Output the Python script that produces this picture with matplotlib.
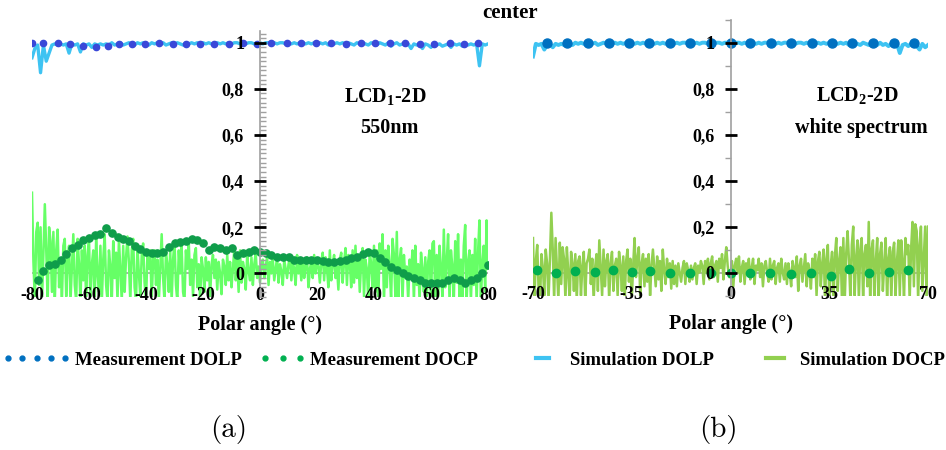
import numpy as np
import matplotlib
matplotlib.use("Agg")
import matplotlib.pyplot as plt
from matplotlib.ticker import FixedLocator, FuncFormatter
from matplotlib.legend_handler import HandlerLine2D

plt.rcParams['font.family'] = 'Liberation Serif'
plt.rcParams['font.weight'] = 'bold'
plt.rcParams['axes.unicode_minus'] = False
plt.rcParams['mathtext.fontset'] = 'custom'
plt.rcParams['mathtext.rm'] = 'Liberation Serif:bold'
plt.rcParams['mathtext.bf'] = 'Liberation Serif:bold'

# ---------------- datos panel (a): LCD1-2D, 550 nm ----------------
ang_docp_sim_a = np.arange(-80, 80.1, 0.5)
docp_sim_a = [
    0.35, 0.05, -0.12, 0.18, 0.22, -0.05, 0.20, -0.12, 0.08, 0.30, 0.10, -0.12, 0.20, 0.14, -0.08, 0.18, -0.12, 0.10, 0.19, -0.06,
    0.05, -0.12, 0.12, 0.15, -0.10, 0.06, 0.12, -0.12, 0.02, 0.17, -0.05, -0.12, 0.15, 0.04, -0.12, 0.10, -0.03, 0.12, -0.12, 0.08,
    0.15, -0.12, 0.04, 0.10, -0.12, 0.15, 0.00, -0.08, 0.12, -0.12, 0.06, 0.17, -0.05, -0.12, 0.10, 0.03, -0.12, 0.14, -0.02, 0.09,
    -0.12, 0.15, 0.02, -0.12, 0.12, -0.08, 0.07, 0.16, 0.05, -0.12, 0.10, 0.15, -0.06, -0.12, 0.12, 0.00, -0.10, 0.08, 0.13, -0.04,
    -0.12, 0.08, 0.02, 0.10, -0.12, 0.06, 0.10, -0.05, 0.06, -0.12, 0.03, 0.17, -0.02, -0.12, 0.09, 0.04, -0.08, 0.10, -0.12, 0.06,
    0.14, -0.05, -0.12, 0.10, 0.00, 0.12, -0.08, -0.12, 0.10, 0.02, 0.14, -0.05, 0.06, -0.10, 0.08, 0.11, -0.06, 0.04, -0.12, 0.07,
    0.02, -0.08, 0.07, -0.03, 0.05, -0.10, 0.04, 0.08, -0.02, 0.06, -0.07, 0.05, 0.00, -0.09, 0.06, 0.03, -0.05, 0.08, -0.03, 0.05,
    -0.06, 0.02, 0.11, -0.03, 0.06, -0.08, 0.10, -0.04, 0.05, 0.02, -0.07, 0.08, 0.01, -0.03, 0.07, -0.05, 0.04, 0.09, -0.02, 0.03,
    -0.04, 0.04, 0.06, -0.02, 0.03, 0.07, -0.05, 0.05, 0.00, 0.06, -0.03, 0.02, 0.07, -0.04, 0.04, 0.01, -0.05, 0.06, 0.02, -0.02,
    0.04, 0.07, -0.03, 0.05, 0.02, -0.05, 0.08, 0.00, 0.04, -0.03, 0.06, -0.02, 0.03, 0.07, -0.06, 0.02, 0.05, -0.02, 0.08, 0.00,
    0.06, 0.03, -0.04, 0.05, 0.09, -0.03, 0.07, 0.02, -0.06, 0.10, -0.03, 0.04, 0.08, -0.02, 0.03, -0.07, 0.06, 0.09, -0.04, 0.05,
    0.11, -0.05, 0.08, 0.05, -0.06, 0.10, -0.04, 0.12, -0.02, 0.08, -0.08, 0.05, 0.11, -0.10, 0.06, 0.02, -0.12, 0.10, 0.04, -0.06,
    0.12, -0.08, 0.10, -0.12, 0.13, 0.02, 0.17, -0.12, 0.10, -0.06, 0.12, 0.04, -0.12, 0.15, 0.08, -0.10, 0.18, -0.12, 0.06, 0.11,
    -0.12, 0.08, -0.02, 0.03, -0.12, 0.06, 0.00, 0.10, -0.12, 0.12, -0.05, 0.04, -0.12, 0.09, 0.02, -0.08, 0.07, -0.12, 0.05, 0.10,
    -0.12, 0.13, 0.14, -0.12, 0.08, -0.12, 0.12, 0.02, -0.10, 0.19, -0.06, 0.05, 0.17, -0.12, 0.10, 0.03, -0.12, 0.14, -0.04, 0.17,
    -0.12, 0.06, -0.12, 0.12, 0.21, -0.12, 0.05, 0.10, -0.12, 0.08, -0.05, 0.15, -0.12, 0.09, 0.23, -0.12, 0.04, 0.12, -0.08, 0.23,
    0.02,
]

ang_dolp_sim_a = np.arange(-80, 81, 1)
dolp_sim_a = [
    0.935, 0.975, 0.99, 0.87, 0.99, 0.92, 0.955, 0.99, 0.995, 0.99,
    0.995, 0.99, 0.995, 0.955, 0.995, 0.99, 0.995, 0.96, 0.995, 0.99,
    0.995, 0.98, 0.995, 0.99, 0.995, 0.99, 0.995, 0.99, 1.0, 0.99,
    0.995, 1.0, 0.99, 0.995, 1.0, 0.995, 0.99, 1.0, 0.995, 1.0,
    0.995, 0.99, 1.0, 0.995, 1.0, 0.995, 1.0, 0.99, 0.995, 1.0,
    0.995, 1.0, 0.995, 0.99, 1.0, 0.995, 1.0, 0.995, 1.0, 0.995,
    1.0, 0.995, 1.0, 0.995, 0.99, 1.0, 0.995, 1.0, 0.995, 1.0,
    0.995, 1.0, 1.0, 0.995, 1.0, 0.995, 1.0, 1.0, 0.995, 1.0,
    1.0, 0.995, 1.0, 1.0, 0.995, 1.0, 0.995, 1.0, 1.0, 0.995,
    1.0, 0.995, 1.0, 0.995, 1.0, 1.0, 0.995, 1.0, 0.995, 1.0,
    0.995, 1.0, 0.995, 1.0, 0.99, 1.0, 0.995, 1.0, 0.995, 1.0,
    0.995, 1.0, 0.995, 0.99, 1.0, 0.995, 1.0, 0.995, 0.99, 1.0,
    0.995, 0.99, 1.0, 0.995, 0.99, 1.0, 0.985, 0.995, 1.0, 0.99,
    0.995, 0.99, 0.995, 0.975, 0.995, 0.99, 0.995, 0.975, 0.995, 0.99,
    0.98, 0.995, 0.99, 0.995, 0.985, 0.99, 0.995, 0.98, 0.995, 0.99,
    0.995, 0.985, 0.995, 0.99, 0.995, 0.99, 0.995, 0.90, 0.995, 0.99, 0.995,
]

ang_dolp_med_a = [-80, -76, -71, -66.5, -62, -57.5, -53.5, -49.5, -45, -40.5, -35.5,
                  -30.5, -26, -21, -16, -11, -6, -1, 4, 9.5, 14.5, 19.5, 25, 30,
                  35.5, 40.5, 45.5, 51, 56, 61, 66.5, 71.5, 76.5]
dolp_med_a = [1.0, 1.0, 1.0, 0.995, 0.985, 0.98, 0.985, 0.995, 0.995, 0.995, 1.0,
              0.995, 0.995, 0.995, 0.995, 0.995, 1.0, 0.995, 1.0, 1.0, 1.0, 1.0,
              1.0, 0.995, 1.0, 1.0, 1.0, 1.0, 0.995, 0.995, 1.0, 0.995, 1.0]

ang_docp_med_a = np.arange(-78, 81, 2)
docp_med_a = [
    -0.03, 0.01, 0.035, 0.04, 0.058, 0.085, 0.11, 0.125, 0.145, 0.155,
    0.167, 0.17, 0.196, 0.175, 0.16, 0.15, 0.14, 0.12, 0.105, 0.095,
    0.087, 0.09, 0.095, 0.116, 0.13, 0.137, 0.14, 0.148, 0.145, 0.13,
    0.10, 0.116, 0.11, 0.10, 0.109, 0.08, 0.09, 0.094, 0.10, 0.095,
    0.087, 0.08, 0.072, 0.07, 0.072, 0.06, 0.058, 0.058, 0.06, 0.058,
    0.052, 0.05, 0.051, 0.055, 0.058, 0.065, 0.072, 0.085, 0.094, 0.087,
    0.065, 0.05, 0.03, 0.015, 0.0, -0.01, -0.02, -0.03, -0.04, -0.043,
    -0.04, -0.043, -0.03, -0.02, -0.03, -0.043, -0.03, -0.02, 0.0, 0.036,
]

# ---------------- datos panel (b): LCD2-2D, espectro blanco ----------------
ang_docp_sim_b = np.arange(-70, 70.1, 0.5)
docp_sim_b = [
    0.15, -0.12, 0.05, 0.12, -0.08, -0.12, 0.08, 0.02, -0.10, 0.10, 0.04, -0.12, 0.06, 0.26, 0.10, -0.12, 0.15, 0.02, -0.12, 0.13,
    -0.05, 0.11, 0.06, -0.12, 0.11, 0.00, -0.12, 0.09, 0.04, -0.08, 0.08, -0.12, 0.05, 0.07, -0.10, 0.03, 0.09, -0.12, 0.04, 0.06,
    0.10, -0.05, 0.06, -0.12, 0.02, 0.08, -0.08, 0.14, 0.02, -0.10, 0.10, -0.06, 0.05, 0.08, -0.12, 0.04, 0.09, -0.08, 0.03, 0.06,
    -0.10, 0.09, 0.03, -0.08, 0.07, -0.12, 0.05, 0.10, -0.04, 0.06, -0.12, 0.03, 0.15, -0.02, 0.06, 0.11, -0.10, 0.04, 0.08, -0.06,
    0.06, -0.04, 0.08, -0.10, 0.03, 0.10, 0.02, -0.06, 0.07, -0.03, 0.05, -0.08, 0.10, 0.01, -0.05, 0.06, -0.02, 0.04, -0.07, 0.05,
    -0.05, 0.03, -0.06, 0.04, 0.00, -0.04, 0.02, 0.05, -0.05, 0.04, 0.01, -0.04, 0.03, -0.03, 0.02, 0.04, -0.05, 0.03, 0.00, 0.05,
    0.03, -0.05, 0.05, 0.00, 0.06, -0.03, 0.04, 0.07, -0.02, 0.03, 0.05, -0.04, 0.06, 0.02, 0.08, -0.03, 0.05, 0.11, 0.03, -0.02,
    -0.02, 0.05, -0.06, 0.03, 0.06, 0.00, 0.07, -0.04, 0.02, 0.05, -0.05, 0.04, 0.00, 0.06, -0.03, 0.02, 0.06, -0.05, 0.03, 0.01,
    0.06, -0.02, 0.04, -0.06, 0.03, 0.05, 0.00, -0.04, 0.06, -0.03, 0.03, 0.05, -0.05, 0.02, 0.04, -0.04, 0.06, 0.00, -0.03, 0.04,
    -0.05, 0.04, 0.00, -0.06, 0.05, 0.02, -0.02, 0.07, -0.08, 0.03, 0.06, -0.04, 0.02, 0.08, -0.06, 0.04, 0.01, -0.07, 0.06, -0.02,
    0.08, -0.10, 0.05, 0.09, -0.06, 0.04, 0.10, -0.12, 0.06, 0.12, -0.10, 0.03, 0.09, -0.12, 0.07, 0.15, -0.08, 0.05, 0.11, -0.12,
    0.15, -0.12, 0.08, 0.18, 0.05, -0.12, 0.12, 0.20, -0.10, 0.06, 0.14, -0.12, 0.10, 0.15, -0.12, 0.08, 0.12, -0.06, 0.22, -0.12,
    0.10, 0.14, -0.12, 0.05, 0.15, -0.12, 0.08, 0.13, -0.08, 0.04, 0.15, -0.12, 0.06, 0.11, -0.12, 0.09, 0.13, -0.10, 0.05, 0.14,
    -0.10, 0.14, 0.05, -0.12, 0.15, 0.08, 0.12, -0.12, 0.10, 0.22, -0.06, 0.21, 0.18, -0.12, 0.12, 0.20, -0.08, 0.06, 0.20, -0.12,
    0.20,
]

ang_dolp_sim_b = np.arange(-70, 71, 1)
dolp_sim_b = [
    0.94, 0.995, 0.99, 0.995, 0.97, 0.99, 0.995, 0.98, 0.995, 0.99,
    0.995, 0.99, 1.0, 0.995, 0.99, 1.0, 0.995, 1.0, 0.995, 0.99,
    1.0, 0.995, 1.0, 0.99, 0.995, 1.0, 0.995, 1.0, 0.995, 1.0,
    0.995, 1.0, 0.995, 1.0, 0.99, 1.0, 0.995, 1.0, 0.995, 1.0,
    0.995, 1.0, 1.0, 0.995, 1.0, 0.995, 1.0, 0.995, 1.0, 1.0,
    0.995, 1.0, 0.995, 1.0, 1.0, 0.995, 1.0, 0.995, 1.0, 0.995,
    1.0, 1.0, 0.995, 1.0, 0.995, 1.0, 1.0, 0.995, 1.0, 1.0,
    1.0, 0.995, 1.0, 1.0, 0.995, 1.0, 0.995, 1.0, 1.0, 0.995,
    1.0, 0.995, 1.0, 1.0, 0.995, 1.0, 0.995, 1.0, 0.995, 1.0,
    1.0, 0.995, 1.0, 0.995, 1.0, 1.0, 0.995, 1.0, 0.995, 1.0,
    0.995, 1.0, 0.995, 1.0, 0.995, 1.0, 0.99, 1.0, 0.995, 1.0,
    0.995, 1.0, 0.99, 0.995, 1.0, 0.995, 0.99, 1.0, 0.995, 0.99,
    1.0, 0.995, 0.99, 1.0, 0.99, 0.995, 0.985, 0.995, 0.99, 0.995,
    0.955, 0.99, 0.995, 0.985, 0.995, 0.99, 0.985, 0.97, 0.995, 0.98, 0.99,
]

ang_dolp_med_b = [-65, -58, -50.5, -43, -36, -29, -21.5, -14.5, -7, 0,
                  7, 14.5, 21.5, 29, 36, 43, 50.5, 58, 65]
dolp_med_b = [1.0, 1.0, 1.0, 1.0, 1.0, 1.0, 1.0, 1.0, 1.0, 1.0,
              1.0, 1.0, 1.0, 1.0, 1.0, 1.0, 1.0, 1.0, 1.0]

ang_docp_med_b = [-68.5, -62, -55, -48, -41.5, -35, -28.5, -21.5, -14.5, -7, 0,
                  7, 14, 21.5, 28.5, 35.5, 42, 49, 56, 63]
docp_med_b = [0.012, 0.0, 0.007, 0.003, 0.012, 0.003, 0.007, 0.0, 0.0, 0.0, -0.004,
              -0.004, -0.004, -0.006, -0.004, -0.017, 0.015, 0.0, 0.004, 0.012]

# colores
c_dolp_sim = '#3ec3f2'
c_docp_sim_a = '#66ff66'
c_docp_sim_b = '#92d050'
c_dolp_med_a = '#3a48d8'
c_docp_med_a = '#0f9d4a'
c_dolp_med_b = '#0070c0'
c_docp_med_b = '#00b050'

W, H = 946, 450
fig = plt.figure(figsize=(W / 100, H / 100), dpi=100)


def ejes(x0, x1, ytop, ybot):
    # caja en pixeles -> fraccion de figura
    return fig.add_axes([x0 / W, 1 - ybot / H, (x1 - x0) / W, (ybot - ytop) / H])


coma = FuncFormatter(lambda v, p: ('%g' % round(v, 2)).replace('.', ','))


def estilo(ax, xlim, ylim, xticks, minor_step, minor_dir):
    ax.set_xlim(*xlim)
    ax.set_ylim(*ylim)
    ax.set_axisbelow(False)   # etiquetas de ejes encima de las curvas
    for s in ['top', 'right', 'bottom']:
        ax.spines[s].set_visible(False)
    ax.spines['left'].set_position(('data', 0))
    ax.spines['left'].set_color('#a0a0a0')
    ax.spines['left'].set_linewidth(1.2)
    ax.axhline(0, color='#a0a0a0', lw=1.2, zorder=1)
    ax.yaxis.set_major_locator(FixedLocator([0, 0.2, 0.4, 0.6, 0.8, 1.0]))
    ax.yaxis.set_major_formatter(coma)
    ax.yaxis.set_minor_locator(FixedLocator(np.arange(-0.1, ylim[1] + 0.001, minor_step)))
    ax.tick_params(axis='y', which='major', direction='inout', length=9, width=2,
                   color='black', labelsize=13, pad=7)
    ax.tick_params(axis='y', which='minor', direction=minor_dir, length=4, width=1,
                   color='#a0a0a0')
    ax.set_xticks(xticks)
    ax.tick_params(axis='x', length=0, labelsize=13, pad=-7)
    for t in ax.get_xticklabels() + ax.get_yticklabels():
        t.set_fontweight('bold')
    ax.set_xlabel('Polar angle (°)', fontsize=14.5, fontweight='bold')
    ax.xaxis.set_label_coords(0.5, -0.068)
    ax.patch.set_alpha(0)


# ---------------- panel (a) ----------------
ax1 = ejes(32, 488, 31.2, 296.5)
estilo(ax1, (-80, 80), (-0.1, 1.05), [-80, -60, -40, -20, 0, 20, 40, 60, 80], 0.02, 'in')
ax1.plot(ang_docp_sim_a, docp_sim_a, color=c_docp_sim_a, lw=1.8, zorder=2.0)
ax1.plot(ang_docp_med_a, docp_med_a, 'o', color=c_docp_med_a, ms=5.2, zorder=2.1)
ax1.plot(ang_dolp_sim_a, dolp_sim_a, color=c_dolp_sim, lw=2.4, zorder=2.2)
ax1.plot(ang_dolp_med_a, dolp_med_a, 'o', color=c_dolp_med_a, ms=4.5, zorder=2.3)
ax1.text(44, 0.765, 'LCD$_{1}$-2D', fontsize=14.5, fontweight='bold', ha='center', va='center')
ax1.text(45.5, 0.63, '550nm', fontsize=14.5, fontweight='bold', ha='center', va='center')

# ---------------- panel (b) ----------------
ax2 = ejes(533, 928, 19.7, 295.5)
estilo(ax2, (-70, 70), (-0.1, 1.1), [-70, -35, 0, 35, 70], 0.1, 'out')
ax2.plot(ang_docp_sim_b, docp_sim_b, color=c_docp_sim_b, lw=1.8, zorder=2.0)
ax2.plot(ang_docp_med_b, docp_med_b, 'o', color=c_docp_med_b, ms=6, zorder=2.1)
ax2.plot(ang_dolp_sim_b, dolp_sim_b, color=c_dolp_sim, lw=2.8, zorder=2.2)
ax2.plot(ang_dolp_med_b, dolp_med_b, 'o', color=c_dolp_med_b, ms=6.5, zorder=2.3)
ax2.text(45, 0.765, 'LCD$_{2}$-2D', fontsize=14.5, fontweight='bold', ha='center', va='center')
ax2.text(46.5, 0.63, 'white spectrum', fontsize=14.5, fontweight='bold', ha='center', va='center')

fig.text(510 / W, 1 - 13 / H, 'center', fontsize=15, fontweight='bold', ha='center', va='center')

# ---------------- leyenda ----------------
fs_ley = 13.5
entradas = [
    (dict(ls='none', marker='o', ms=3.5, color=c_dolp_med_b), 'Measurement DOLP', 5, 2.4, 3.64, 0.23),
    (dict(ls='none', marker='o', ms=3.5, color=c_docp_med_b), 'Measurement DOCP', 3, 259.4, 2.47, 0.23),
    (dict(ls='-', lw=3, color=c_dolp_sim), 'Simulation DOLP', 2, 530, 1.33, 0.8),
    (dict(ls='-', lw=3, color=c_docp_sim_b), 'Simulation DOCP', 2, 760, 1.6, 0.53),
]
for kw, txt, npts, x0, hl, tp in entradas:
    h, = ax1.plot([], [], **kw)
    fig.legend([h], [txt], loc='center left', bbox_to_anchor=(x0 / W, 1 - 360 / H),
               frameon=False, handler_map={h: HandlerLine2D(numpoints=npts)},
               handlelength=hl, handletextpad=tp, borderaxespad=0, borderpad=0,
               prop={'family': 'Liberation Serif', 'weight': 'bold', 'size': fs_ley})

fig.text(229 / W, 1 - 430 / H, '(a)', family='cmr10', fontsize=21, ha='center', va='center')
fig.text(718 / W, 1 - 430 / H, '(b)', family='cmr10', fontsize=21, ha='center', va='center')

fig.savefig('out.png', dpi=100)
